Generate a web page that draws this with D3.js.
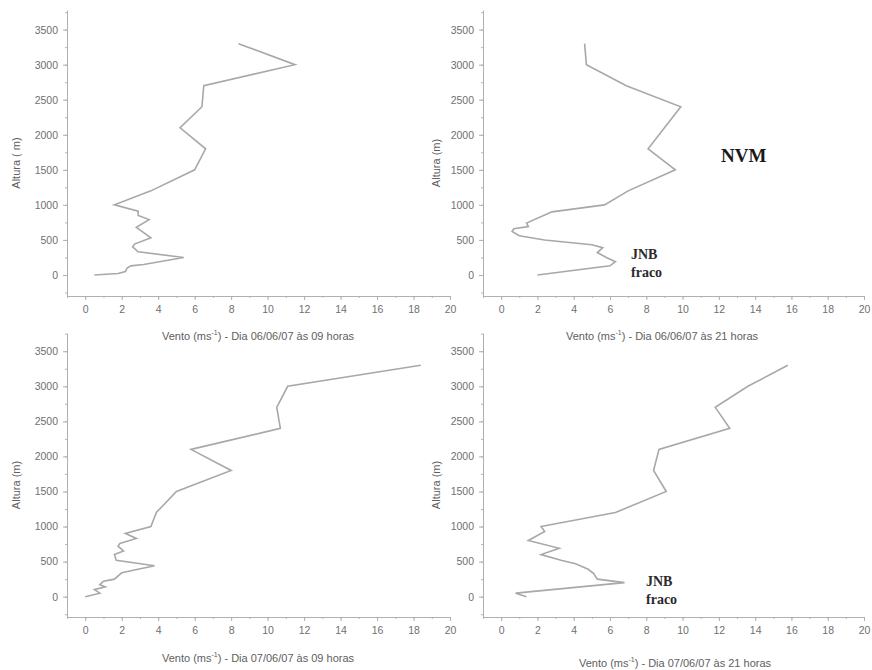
<!DOCTYPE html>
<html>
<head>
<meta charset="utf-8">
<script src="https://cdn.jsdelivr.net/npm/d3@7"></script>
<style>
  body { margin: 0; background: #fff; }
  text { font-family: "Liberation Sans", Arial, sans-serif; }
</style>
</head>
<body>
<div id="chart"></div>
<script>
const width = 872
const height = 670

// [vento (m/s), altura (m)]
const dia06h09 = [[0.5,0],[1.8,20],[2.2,50],[2.3,100],[2.5,130],[3.2,150],[5.4,250],[2.9,330],[2.6,400],[2.7,440],[3.6,530],[2.8,680],[3.5,790],[2.9,850],[2.9,910],[1.6,1000],[3.6,1200],[6.0,1500],[6.6,1800],[5.2,2100],[6.4,2400],[6.5,2700],[11.5,3000],[8.4,3300]]
const dia06h21 = [[2.0,0],[6.0,130],[6.3,190],[5.8,250],[5.3,320],[5.6,390],[5.0,430],[2.4,500],[1.0,560],[0.6,620],[0.7,660],[1.5,690],[1.4,740],[2.8,900],[5.7,1000],[7.0,1200],[9.6,1500],[8.1,1800],[9.9,2400],[6.9,2700],[4.7,3000],[4.6,3300]]
const dia07h09 = [[0,0],[0.8,50],[0.5,100],[1.1,140],[0.8,170],[1.0,220],[1.6,250],[2.0,340],[3.8,440],[1.7,520],[1.6,600],[2.1,650],[1.8,720],[1.9,760],[2.8,830],[2.2,900],[3.6,1000],[3.9,1200],[5.0,1500],[8.0,1800],[5.8,2100],[10.7,2400],[10.5,2700],[11.1,3000],[18.4,3300]]
const dia07h21 = [[1.4,0],[0.8,50],[6.8,200],[5.3,250],[5.1,330],[4.8,390],[4.1,470],[3.3,520],[2.2,600],[3.2,690],[1.5,800],[2.4,930],[2.2,1000],[6.3,1200],[9.1,1500],[8.4,1800],[8.7,2100],[12.6,2400],[11.8,2700],[13.6,3000],[15.8,3300]]

const xTicks = d3.range(0, 21, 2)
const yTicks = d3.range(0, 3501, 500)

const panels = [
  {data: dia06h09, left: 67, right: 450, top: 10, bottom: 296, yDom: [-300, 3780], ylab: "Altura ( m)", ylx: 20, dia: "06/06/07 às 09 horas", xlx: 258, xly: 340},
  {data: dia06h21, left: 483, right: 864, top: 10, bottom: 296, yDom: [-300, 3780], ylab: "Altura (m)", ylx: 440, dia: "06/06/07 às 21 horas", xlx: 662, xly: 340},
  {data: dia07h09, left: 67, right: 450, top: 333, bottom: 617, yDom: [-290, 3760], ylab: "Altura (m)", ylx: 20, dia: "07/06/07 às 09 horas", xlx: 258, xly: 662},
  {data: dia07h21, left: 483, right: 864, top: 333, bottom: 617, yDom: [-290, 3760], ylab: "Altura (m)", ylx: 440, dia: "07/06/07 às 21 horas", xlx: 675, xly: 667}
]

const svg = d3.select("#chart").append("svg").attr("width", width).attr("height", height)

panels.forEach(p => {
  const x = d3.scaleLinear().domain([-1, 20]).range([p.left, p.right])
  const y = d3.scaleLinear().domain(p.yDom).range([p.bottom, p.top])
  const g = svg.append("g")

  // minor ticks
  const xMinor = g.append("g").attr("transform", `translate(0, ${p.bottom})`)
    .call(d3.axisBottom(x).tickValues(d3.range(-1, 21, 1)).tickSize(2).tickFormat(""))
  const yMinor = g.append("g").attr("transform", `translate(${p.left}, 0)`)
    .call(d3.axisLeft(y).tickValues(d3.range(-250, 3751, 250)).tickSize(2).tickFormat(""))
  ;[xMinor, yMinor].forEach(a => { a.select(".domain").remove(); a.selectAll("line").attr("stroke", "#b5b5b5") })

  const xAx = g.append("g").attr("transform", `translate(0, ${p.bottom})`)
    .call(d3.axisBottom(x).tickValues(xTicks).tickSize(4).tickSizeOuter(0).tickPadding(6))
  const yAx = g.append("g").attr("transform", `translate(${p.left}, 0)`)
    .call(d3.axisLeft(y).tickValues(yTicks).tickFormat(d3.format("d")).tickSize(4).tickSizeOuter(0).tickPadding(5))
  ;[xAx, yAx].forEach(a => {
    a.select(".domain").attr("stroke", "#b0b0b0")
    a.selectAll("line").attr("stroke", "#b0b0b0")
    a.selectAll("text").attr("fill", "#707070").style("font-size", "10.5px").style("font-family", "Liberation Sans, Arial, sans-serif")
  })

  g.append("path").datum(p.data)
    .attr("fill", "none").attr("stroke", "#a8a8a8").attr("stroke-width", 1.6)
    .attr("d", d3.line().x(d => x(d[0])).y(d => y(d[1])))

  g.append("text").attr("transform", `translate(${p.ylx}, ${(p.top + p.bottom) / 2 + 10}) rotate(-90)`)
    .attr("text-anchor", "middle").attr("fill", "#606060").style("font-size", "11px").text(p.ylab)

  const xl = g.append("text").attr("x", p.xlx).attr("y", p.xly)
    .attr("text-anchor", "middle").attr("fill", "#606060").style("font-size", "11px")
  xl.append("tspan").text("Vento (ms")
  xl.append("tspan").attr("dy", -5).style("font-size", "7px").text("-1")
  xl.append("tspan").attr("dy", 5).text(") - Dia " + p.dia)
})

const serif = "Liberation Serif, Times New Roman, serif"
svg.append("text").attr("x", 721).attr("y", 162).attr("font-weight", "bold").attr("fill", "#1a1a1a")
  .style("font-family", serif).style("font-size", "19px").text("NVM")
;[[631, 259], [646, 586]].forEach(([tx, ty]) => {
  svg.append("text").attr("x", tx).attr("y", ty).attr("font-weight", "bold").attr("fill", "#2a2a2a")
    .style("font-family", serif).style("font-size", "14px").text("JNB")
  svg.append("text").attr("x", tx).attr("y", ty + 18).attr("font-weight", "bold").attr("fill", "#2a2a2a")
    .style("font-family", serif).style("font-size", "14px").text("fraco")
})
</script>
</body>
</html>
